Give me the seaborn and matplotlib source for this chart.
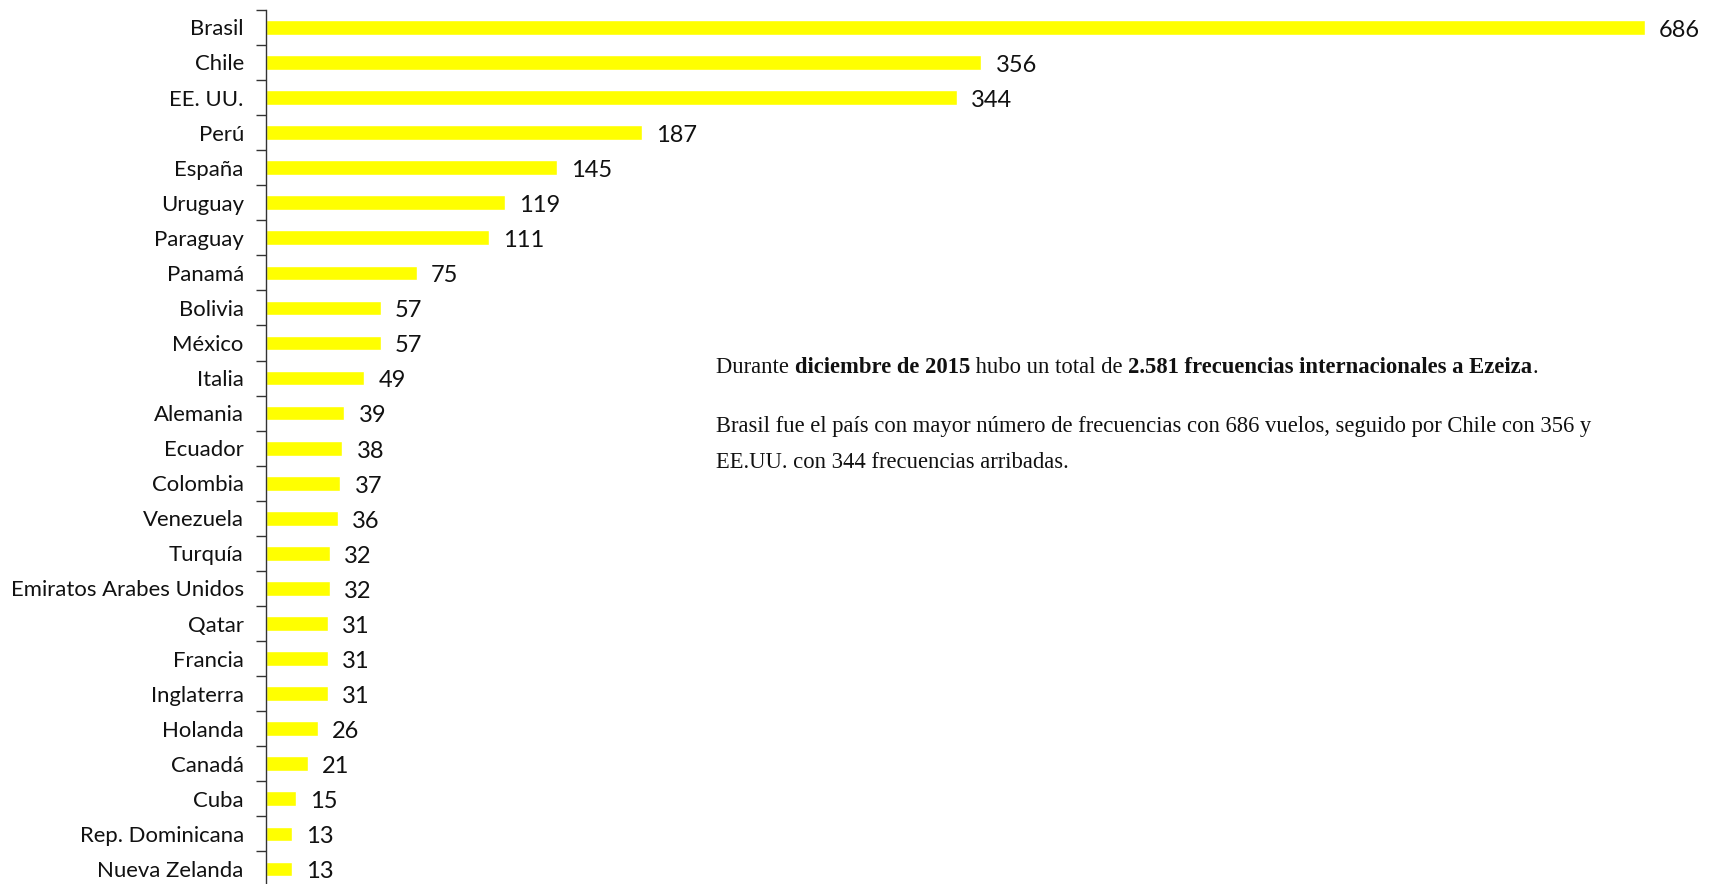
import matplotlib
matplotlib.use("Agg")
import matplotlib.pyplot as plt
import seaborn as sns
import pandas as pd

countries = ["Brasil", "Chile", "EE. UU.", "Perú", "España", "Uruguay", "Paraguay",
             "Panamá", "Bolivia", "México", "Italia", "Alemania", "Ecuador", "Colombia",
             "Venezuela", "Turquía", "Emiratos Arabes Unidos", "Qatar", "Francia",
             "Inglaterra", "Holanda", "Canadá", "Cuba", "Rep. Dominicana", "Nueva Zelanda"]
flights = [686, 356, 344, 187, 145, 119, 111, 75, 57, 57, 49, 39, 38, 37, 36, 32, 32,
           31, 31, 31, 26, 21, 15, 13, 13]

line1_parts = [("Durante ", "normal"), ("diciembre de 2015", "bold"),
               (" hubo un total de ", "normal"),
               ("2.581 frecuencias internacionales a Ezeiza", "bold"), (".", "normal")]
line2 = "Brasil fue el país con mayor número de frecuencias con 686 vuelos, seguido por Chile con 356 y"
line3 = "EE.UU. con 344 frecuencias arribadas."

df = pd.DataFrame({"country": countries, "flights": flights})

sns.set_theme(style="white")
plt.rcParams["font.family"] = ["Lato", "DejaVu Sans"]

W, H = 1719, 884
fig = plt.figure(figsize=(W / 100, H / 100), dpi=100)
ax = fig.add_axes([266 / W, -2.5 / H, (W - 266) / W, 876.6 / H])

sns.barplot(data=df, y="country", x="flights", orient="h", color="#FFFF00",
            saturation=1, width=0.42, ax=ax)

ax.set_xlim(0, 723)
ax.set_ylim(len(countries) - 0.5, -0.5)
ax.set_xlabel("")
ax.set_ylabel("")
ax.set_xticks([])
for s in ["top", "right", "bottom"]:
    ax.spines[s].set_visible(False)
ax.spines["left"].set_color("#333333")
ax.spines["left"].set_linewidth(1.0)

ax.set_yticks(range(len(countries)))
ax.set_yticklabels(countries, fontsize=15.9, color="#111111")
ax.tick_params(axis="y", which="major", left=False, length=0, pad=16)
ax.set_yticks([i - 0.5 for i in range(len(countries) + 1)], minor=True)
ax.tick_params(axis="y", which="minor", left=True, length=7, width=1,
               color="#333333", direction="out")

for i, v in enumerate(flights):
    ax.text(v + 7, i + 0.08, str(v), va="center", ha="left", fontsize=17,
            color="#111111", clip_on=False)

# text block
serif = ["Liberation Serif", "DejaVu Serif"]
fs = 16.3
prev = None
for txt, wt in line1_parts:
    if prev is None:
        prev = fig.text(716 / W, 1 - 373 / H, txt, fontsize=fs, fontweight=wt,
                        family=serif, va="baseline", ha="left", color="#111111")
    else:
        prev = ax.annotate(txt, xy=(1, 0), xycoords=prev, va="bottom", ha="left",
                           fontsize=fs, fontweight=wt, family=serif, color="#111111",
                           annotation_clip=False)
fig.text(716 / W, 1 - 432 / H, line2, fontsize=fs, family=serif, va="baseline",
         ha="left", color="#111111")
fig.text(716 / W, 1 - 468 / H, line3, fontsize=fs, family=serif, va="baseline",
         ha="left", color="#111111")

fig.savefig("out.png", dpi=100, facecolor="white")
